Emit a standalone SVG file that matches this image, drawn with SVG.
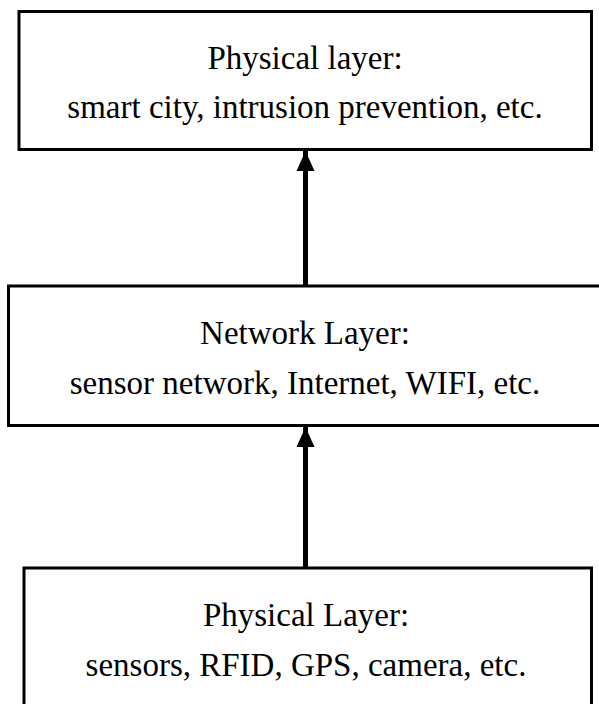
<svg xmlns="http://www.w3.org/2000/svg" width="599" height="704" viewBox="0 0 599 704">
<defs>
<style>
.box{fill:#fff;stroke:#000;stroke-width:3}
.t{font-family:"Liberation Serif","Times New Roman",serif;font-size:33px;fill:#000;text-anchor:middle}
.c{stroke:#000;stroke-width:5;fill:none}
</style>
<marker id="ah" markerUnits="userSpaceOnUse" markerWidth="20" markerHeight="20" viewBox="0 0 20 20" refX="20" refY="10" orient="auto">
<path d="M0,1 L20,10 L0,19 Z" fill="#000"/>
</marker>
</defs>
<rect width="599" height="704" fill="#fff"/>
<g id="connectors">
<line class="c" x1="305.5" y1="286" x2="305.5" y2="151" marker-end="url(#ah)"/>
<line class="c" x1="305.5" y1="568" x2="305.5" y2="427" marker-end="url(#ah)"/>
</g>
<g id="app-layer">
<rect class="box" x="19" y="11.5" width="572.5" height="138"/>
<text class="t" x="305" y="69">Physical layer:</text>
<text class="t" x="305" y="118">smart city, intrusion prevention, etc.</text>
</g>
<g id="network-layer">
<rect class="box" x="8.5" y="286" width="595" height="139.5"/>
<text class="t" x="305" y="344">Network Layer:</text>
<text class="t" x="305" y="394">sensor network, Internet, WIFI, etc.</text>
</g>
<g id="physical-layer">
<rect class="box" x="24" y="568" width="567.5" height="150"/>
<text class="t" x="306" y="626">Physical Layer:</text>
<text class="t" x="306" y="676">sensors, RFID, GPS, camera, etc.</text>
</g>
</svg>
